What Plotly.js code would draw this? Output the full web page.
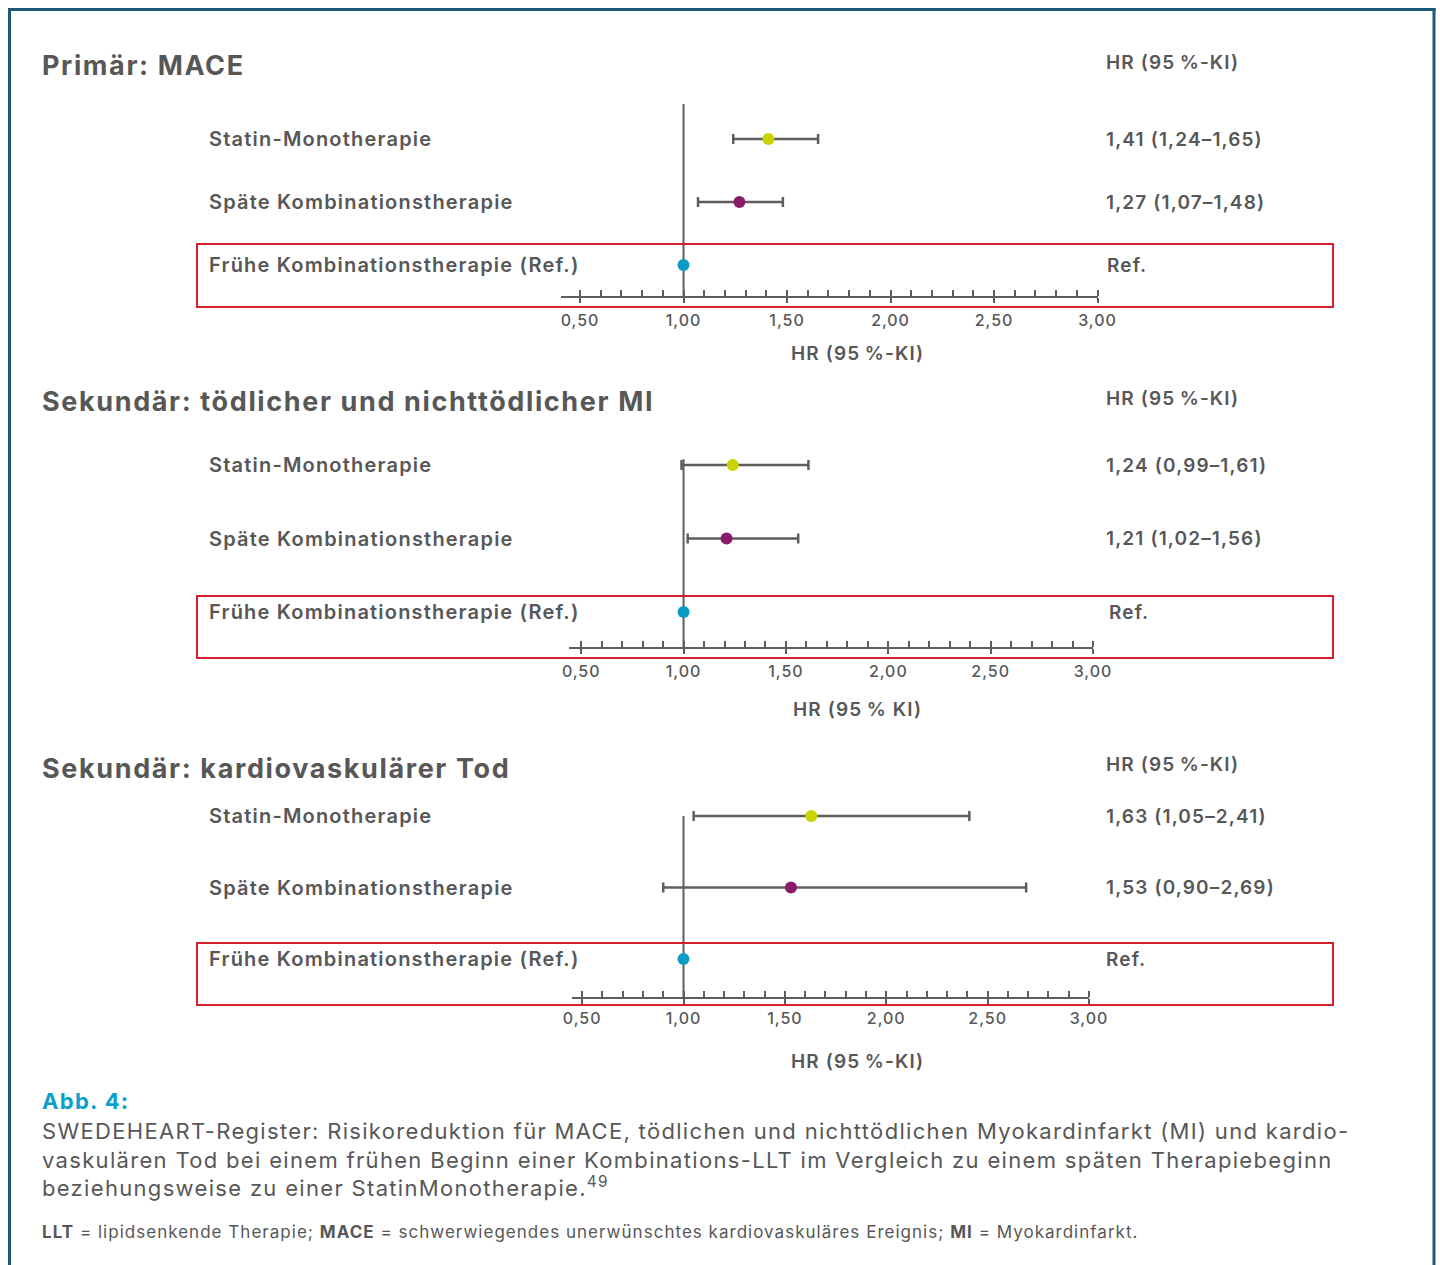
<!DOCTYPE html>
<html lang="de">
<head>
<meta charset="utf-8">
<title>SWEDEHEART – Forest Plot</title>
<script src="https://cdn.plot.ly/plotly-3.0.1.min.js"></script>
<style>
  html, body { margin: 0; padding: 0; background: #ffffff; }
  #chart { width: 1440px; height: 1265px; }
  /* wide tracking for the geometric house style */
  #chart text { letter-spacing: 0.06em; }
</style>
</head>
<body>
<div id="chart"></div>
<script>
// ---- Data -------------------------------------------------------------
const outcomeTitles = [
  'Primär: MACE',
  'Sekundär: tödlicher und nichttödlicher MI',
  'Sekundär: kardiovaskulärer Tod'
];
const axisTitles = ['HR (95\u2009%-KI)', 'HR (95\u2009% KI)', 'HR (95\u2009%-KI)'];
const columnHeader = 'HR (95\u2009%-KI)';

// rows listed bottom-to-top: reference first
const treatments = [
  'Frühe Kombinationstherapie (Ref.)',
  'Späte Kombinationstherapie',
  'Statin-Monotherapie'
];
const treatmentColors = ['#0a9cc6', '#8a1a6a', '#c9d300'];

// hazard ratios with 95 % confidence limits (null = reference group)
const hrMace = [1.00, 1.27, 1.41];
const loMace = [null, 1.07, 1.24];
const hiMace = [null, 1.48, 1.65];

const hrMi = [1.00, 1.21, 1.24];
const loMi = [null, 1.02, 0.99];
const hiMi = [null, 1.56, 1.61];

const hrCvDeath = [1.00, 1.53, 1.63];
const loCvDeath = [null, 0.90, 1.05];
const hiCvDeath = [null, 2.69, 2.41];

const referenceValue = 1.00;
const tickValues = [0.5, 1.0, 1.5, 2.0, 2.5, 3.0];
const tickLabels = ['0,50', '1,00', '1,50', '2,00', '2,50', '3,00'];

const caption = 'SWEDEHEART-Register: Risikoreduktion für MACE, tödlichen und nichttödlichen Myokardinfarkt (MI) und kardio-<br>' +
  'vaskulären Tod bei einem frühen Beginn einer Kombinations-LLT im Vergleich zu einem späten Therapiebeginn<br>' +
  'beziehungsweise zu einer StatinMonotherapie.<sup>49</sup>';
const footnote = '<b>LLT</b> = lipidsenkende Therapie; <b>MACE</b> = schwerwiegendes unerwünschtes kardiovaskuläres Ereignis; <b>MI</b> = Myokardinfarkt.';

// ---- Layout geometry (pixels on a 1440 x 1265 page) ------------------
const W = 1440, H = 1265;
const px = v => v / W;
const py = v => 1 - v / H;

// refRow: pixel row of the reference group, rowStep: pixels between rows,
// axisY: pixel row of the x axis, lineTop: top of the HR = 1 line in row units
const panels = [
  { hr: hrMace,    lo: loMace,    hi: hiMace,
    xPx: [561, 1097.5], xRange: [0.408, 3.0],
    refRow: 265, rowStep: 63, axisY: 296, lineTop: 2.556, standoff: 4,
    titleY: 65, headY: 62, xTitleY: 354, rect: [244, 307], refX: 1105 },
  { hr: hrMi,      lo: loMi,      hi: hiMi,
    xPx: [568.5, 1093], xRange: [0.438, 3.0],
    refRow: 612, rowStep: 73.5, axisY: 647, lineTop: 2.08, standoff: 4,
    titleY: 402, headY: 399, xTitleY: 709, rect: [596, 658], refX: 1107 },
  { hr: hrCvDeath, lo: loCvDeath, hi: hiCvDeath,
    xPx: [572, 1089],   xRange: [0.45, 3.0],
    refRow: 959, rowStep: 71.5, axisY: 997, lineTop: 2.0, standoff: 1,
    titleY: 768, headY: 765, xTitleY: 1061, rect: [943, 1005], refX: 1104 }
];

const FONT = 'Inter, "Open Sans", "Noto Sans", sans-serif';
const TEXT = '#575758';
const AXIS = '#5e5e5e';
const LABEL_X = 207;
const VALUE_X = 1104;
const LEFT_X = 40;

const fmt = v => v.toFixed(2).replace('.', ',');

const data = [];
const shapes = [];
const annotations = [];
const layout = {
  width: W, height: H,
  margin: { l: 0, r: 0, t: 0, b: 0 },
  paper_bgcolor: '#ffffff',
  plot_bgcolor: 'rgba(0,0,0,0)',
  showlegend: false,
  font: { family: FONT, color: TEXT },
  shapes: shapes,
  annotations: annotations
};

// left-aligned text helper
const leftText = (x, yref, y, text, size, weight, color, yanchor) => ({
  xref: 'paper', yref: yref, x: x, y: y,
  xanchor: 'left', yanchor: yanchor || 'middle', align: 'left', showarrow: false,
  text: text,
  font: { family: FONT, size: size, color: color || TEXT, weight: weight }
});

panels.forEach((p, i) => {
  const k = i + 1;
  const xa = 'x' + (k === 1 ? '' : k);
  const ya = 'y' + (k === 1 ? '' : k);
  const over = 'x' + (k + 3);

  const yBottom = -(p.axisY - p.refRow) / p.rowStep;
  const yTop = p.lineTop + 0.25;
  const domTopPx = p.refRow - yTop * p.rowStep;

  layout['xaxis' + (k === 1 ? '' : k)] = {
    domain: [px(p.xPx[0]), px(p.xPx[1])],
    range: p.xRange,
    anchor: ya,
    showgrid: false, zeroline: false,
    showline: true, linecolor: AXIS, linewidth: 2,
    tickmode: 'array', tickvals: tickValues, ticktext: tickLabels,
    ticks: 'outside', ticklen: 5, tickwidth: 2, tickcolor: AXIS,
    ticklabelstandoff: p.standoff,
    tickfont: { family: FONT, size: 16, color: TEXT, weight: 500 },
    minor: { tick0: 0.5, dtick: 0.1, ticks: 'inside', ticklen: 6, tickwidth: 2, tickcolor: AXIS },
    fixedrange: true
  };
  // second axis draws the upper half of the major ticks
  layout['xaxis' + (k + 3)] = {
    overlaying: xa,
    anchor: ya,
    range: p.xRange,
    showgrid: false, zeroline: false, showline: false,
    tickmode: 'array', tickvals: tickValues, showticklabels: false,
    ticks: 'inside', ticklen: 6, tickwidth: 2, tickcolor: AXIS,
    fixedrange: true
  };
  layout['yaxis' + (k === 1 ? '' : k)] = {
    domain: [py(p.axisY), py(domTopPx)],
    type: 'category',
    categoryorder: 'array', categoryarray: treatments,
    range: [yBottom, yTop],
    visible: false, fixedrange: true
  };

  // points with confidence intervals
  data.push({
    type: 'scatter', mode: 'markers',
    xaxis: xa, yaxis: ya,
    x: p.hr, y: treatments,
    cliponaxis: false,
    marker: { size: 12, color: treatmentColors, line: { width: 0 } },
    error_x: {
      type: 'data', symmetric: false,
      array: p.hr.map((v, j) => p.hi[j] === null ? null : p.hi[j] - v),
      arrayminus: p.hr.map((v, j) => p.lo[j] === null ? null : v - p.lo[j]),
      color: AXIS, thickness: 2.5, width: 5
    },
    hoverinfo: 'skip'
  });
  data.push({ type: 'scatter', mode: 'markers', xaxis: over, yaxis: ya,
              x: [], y: [], hoverinfo: 'skip' });

  // reference line at HR = 1
  shapes.push({
    type: 'line', layer: 'below',
    xref: xa, x0: referenceValue, x1: referenceValue,
    yref: ya, y0: yBottom, y1: p.lineTop,
    line: { color: AXIS, width: 2 }
  });
  // highlighted reference row
  shapes.push({
    type: 'rect', layer: 'above',
    xref: 'paper', x0: px(197), x1: px(1333),
    yref: 'paper', y0: py(p.rect[1]), y1: py(p.rect[0]),
    line: { color: '#d51f2a', width: 2 }, fillcolor: 'rgba(0,0,0,0)'
  });

  // panel title, column header and axis caption
  annotations.push(leftText(px(LEFT_X), 'paper', py(p.titleY), outcomeTitles[i], 27, 700));
  annotations.push(leftText(px(VALUE_X), 'paper', py(p.headY), columnHeader, 19, 600));
  annotations.push({
    xref: 'paper', yref: 'paper', x: px(857), y: py(p.xTitleY),
    xanchor: 'center', yanchor: 'middle', showarrow: false,
    text: axisTitles[i],
    font: { family: FONT, size: 19, color: TEXT, weight: 600 }
  });

  // row labels and value column
  treatments.forEach((t, j) => {
    annotations.push(leftText(px(LABEL_X), ya, t, t, 20, 600));
    const isRef = p.lo[j] === null;
    const txt = isRef ? 'Ref.' : fmt(p.hr[j]) + ' (' + fmt(p.lo[j]) + '\u2013' + fmt(p.hi[j]) + ')';
    annotations.push(leftText(px(isRef ? p.refX : VALUE_X), ya, t, txt, 19, 600));
  });
});

// figure caption
annotations.push(leftText(px(LEFT_X), 'paper', py(1101), 'Abb. 4:', 22, 700, '#0a9fc8'));
annotations.push(leftText(px(LEFT_X), 'paper', py(1116), caption, 22, 400, TEXT, 'top'));
annotations.push(leftText(px(LEFT_X), 'paper', py(1232), footnote, 17, 400));

// outer frame (open at the bottom)
const FRAME = '#1b5877';
shapes.push({ type: 'line', xref: 'paper', yref: 'paper', x0: px(9.5), x1: px(9.5), y0: py(8), y1: py(1265), line: { color: FRAME, width: 3 } });
shapes.push({ type: 'line', xref: 'paper', yref: 'paper', x0: px(8), x1: px(1435.5), y0: py(9.5), y1: py(9.5), line: { color: FRAME, width: 3 } });
shapes.push({ type: 'line', xref: 'paper', yref: 'paper', x0: px(1434), x1: px(1434), y0: py(8), y1: py(1265), line: { color: FRAME, width: 3 } });

Plotly.newPlot('chart', data, layout, { staticPlot: true, displayModeBar: false });
</script>
</body>
</html>
